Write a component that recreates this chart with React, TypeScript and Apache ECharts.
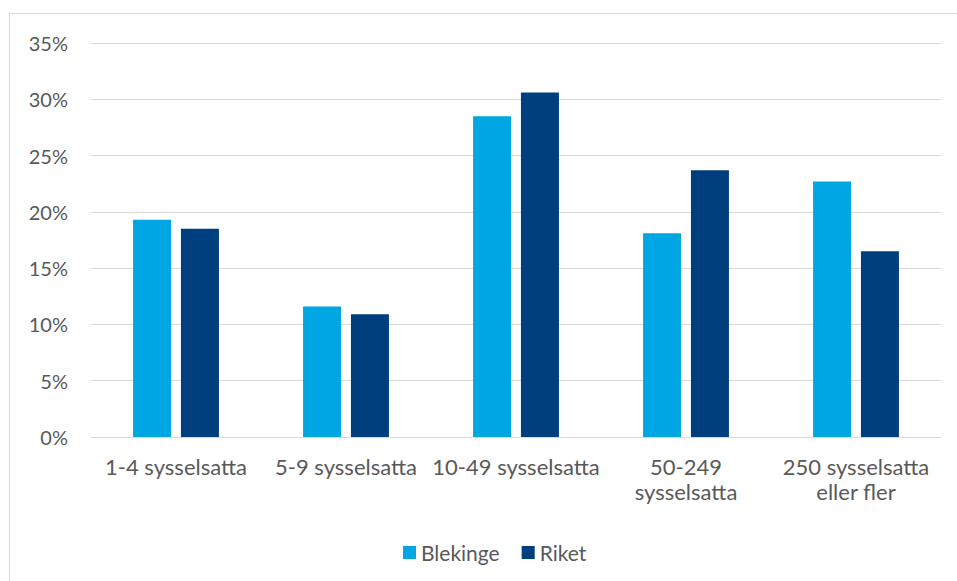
import React, { useEffect, useRef } from "react";
import * as echarts from "echarts";

const categories = [
  "1-4 sysselsatta",
  "5-9 sysselsatta",
  "10-49 sysselsatta",
  "50-249\nsysselsatta",
  "250 sysselsatta\neller fler",
];
const blekinge = [19.3, 11.6, 28.5, 18.1, 22.7];
const riket = [18.5, 10.9, 30.6, 23.7, 16.5];
const seriesNames = ["Blekinge", "Riket"];
const yTicks = { min: 0, max: 35, interval: 5 };

const FONT = "Lato";
const TEXT = "#595959";

export default function App() {
  const ref = useRef<HTMLDivElement>(null);
  useEffect(() => {
    if (!ref.current) return;
    const chart = echarts.init(ref.current, undefined, { renderer: "svg" });
    chart.setOption({
      animation: false,
      backgroundColor: "#ffffff",
      textStyle: { fontFamily: FONT },
      graphic: [
        {
          type: "rect",
          shape: { x: 9.5, y: 13.5, width: 1000, height: 1000 },
          style: { fill: "none", stroke: "#D9D9D9", lineWidth: 1 },
          silent: true,
        },
      ],
      grid: { left: 91, right: 16, top: 43, bottom: 144 },
      legend: {
        data: seriesNames,
        left: 398,
        top: 537,
        icon: "rect",
        itemWidth: 13,
        itemHeight: 13,
        itemGap: 22,
        textStyle: { fontFamily: FONT, fontSize: 21, color: TEXT },
      },
      xAxis: {
        type: "category",
        data: categories,
        axisLine: { show: true, lineStyle: { color: "#D9D9D9", width: 1 } },
        axisTick: { show: false },
        axisLabel: {
          interval: 0,
          margin: 17,
          fontFamily: FONT,
          fontSize: 22,
          color: TEXT,
          lineHeight: 25,
        },
      },
      yAxis: {
        type: "value",
        min: yTicks.min,
        max: yTicks.max,
        interval: yTicks.interval,
        axisLine: { show: false },
        axisTick: { show: false },
        splitLine: { lineStyle: { color: "#D9D9D9", width: 1 } },
        axisLabel: {
          formatter: "{value}%",
          margin: 23,
          fontFamily: FONT,
          fontSize: 20,
          color: TEXT,
        },
      },
      series: [
        {
          name: seriesNames[0],
          type: "bar",
          data: blekinge,
          barWidth: 38,
          barGap: "26%",
          itemStyle: { color: "#00A6E2" },
        },
        {
          name: seriesNames[1],
          type: "bar",
          data: riket,
          barWidth: 38,
          itemStyle: { color: "#003F7D" },
        },
      ],
    });
    return () => chart.dispose();
  }, []);
  return (
    <div
      ref={ref}
      style={{ position: "fixed", left: 0, top: 0, width: 957, height: 581 }}
    />
  );
}
